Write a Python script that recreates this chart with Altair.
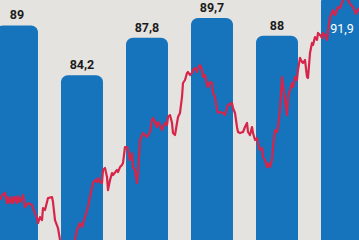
import altair as alt
import pandas as pd

# Bars (index values) and their printed labels
bar_pos = [1, 2, 3, 4, 5, 6]
bar_values = [89.0, 84.2, 87.8, 89.7, 88.0, 91.9]
bar_labels = ["89", "84,2", "87,8", "89,7", "88", "91,9"]

# Red line: daily index series
line_day = [0, 2, 5, 7, 8, 10, 12, 13, 15, 17, 18, 20, 22, 23, 25, 28, 32, 33, 37, 38, 40, 42, 43, 45, 48, 52, 53, 55, 58, 60,
            63, 68, 73, 75, 77, 80, 82, 85, 88, 90, 93, 95, 97, 98, 100, 102, 103, 105, 107, 108, 110, 112, 113, 117, 118, 120,
            122, 123, 125, 127, 128, 130, 132, 133, 135, 137, 138, 140, 143, 147, 150, 152, 153, 155, 157, 158, 160, 162, 163,
            165, 167, 168, 170, 172, 173, 175, 177, 178, 180, 182, 183, 185, 187, 188, 190, 192, 193, 195, 197, 198, 200, 202,
            203, 205, 207, 208, 210, 212, 213, 215, 217, 218, 220, 223, 225, 227, 228, 232, 233, 235, 237, 238, 240, 243, 245,
            247, 248, 250, 252, 253, 255, 257, 258, 260, 262, 263, 265, 267, 268, 270, 272, 273, 275, 277, 278, 280, 282, 285,
            287, 288, 290, 292, 293, 295, 297, 298, 300, 302, 303, 305, 307, 308, 310, 312, 313, 315, 317, 318, 320, 322, 323,
            325, 327, 328, 330, 332, 333, 335, 337, 338, 340, 342, 343, 346, 348, 351, 353, 356, 359]
line_value = [72.21, 72.69, 72.89, 71.92, 72.50, 71.92, 72.50, 71.92, 72.50, 71.92, 72.60, 72.02, 72.40, 72.69, 71.54, 71.92,
              71.73, 71.44, 70.48, 70.00, 70.58, 70.29, 71.44, 71.25, 72.40, 72.50, 72.02, 70.29, 69.52, 68.37,
              67.21, 66.64, 67.60, 68.37, 69.33, 70.00, 69.62, 70.58, 71.54, 72.50, 73.85, 74.13, 73.94, 74.33, 73.94, 73.85,
              75.10, 75.29, 74.42, 73.17, 74.13, 74.81, 74.62, 75.10, 74.90, 75.38,
              75.58, 75.77, 77.31, 77.31, 77.02, 76.06, 76.73, 75.38, 75.10, 73.85, 74.81, 77.98, 78.65, 78.27, 78.75, 79.90,
              80.10, 79.71, 79.23, 79.71, 79.42, 78.94, 79.23,
              79.62, 79.42, 80.19, 80.38, 79.62, 78.65, 78.46, 79.62, 80.19, 80.58, 82.12, 83.46, 83.75, 84.42, 84.52, 84.23,
              84.42, 84.71, 84.90, 84.52, 84.90, 85.19, 84.71,
              84.04, 84.23, 83.27, 83.08, 83.56, 83.46, 82.50, 82.12, 80.87, 80.58, 80.67, 80.58, 80.38, 81.06, 81.35, 81.54,
              81.06, 80.58, 79.23, 78.75, 78.65, 78.75, 79.23,
              79.62, 78.75, 78.46, 79.23, 78.65, 77.98, 78.17, 77.69, 77.02, 77.21, 76.35, 76.06, 75.38, 75.77, 75.38, 76.06,
              77.31, 78.94, 78.75, 79.23, 80.87, 84.04, 81.83,
              80.38, 82.12, 82.79, 83.46, 83.08, 84.04, 83.75, 84.71, 85.87, 85.48, 85.39, 85.67, 84.04, 83.94, 86.35, 87.31,
              87.12, 87.88, 87.60, 88.27, 88.08, 87.79, 88.27,
              88.08, 87.60, 88.37, 89.81, 90.19, 90.48, 90.00, 90.48, 90.77, 90.67, 91.15, 91.44, 91.73, 91.44, 90.96, 90.77,
              90.10, 90.67]

bars = pd.DataFrame({"pos": bar_pos, "value": bar_values, "label": bar_labels})
line = pd.DataFrame({"day": line_day, "value": line_value})

Y_DOMAIN = [68.37, 91.44]
X_BAR_DOMAIN = [0.7385, 6.2615]
HALF = 0.323  # half bar width in bar-index units

y_scale = alt.Scale(domain=Y_DOMAIN, zero=False, nice=False)
x_scale = alt.Scale(domain=X_BAR_DOMAIN, nice=False, zero=False)

base = alt.Chart(bars).transform_calculate(
    left=f"datum.pos - {HALF}", right=f"datum.pos + {HALF}"
)

bar_layer = base.mark_bar(
    color="#1674bd", cornerRadiusTopLeft=7, cornerRadiusTopRight=7, clip=True
).encode(
    x=alt.X("left:Q", scale=x_scale, axis=None),
    x2="right:Q",
    y=alt.Y("value:Q", scale=y_scale, axis=None),
    y2=alt.Y2(datum=60),
)

label_top = alt.Chart(bars).transform_filter(alt.datum.pos < 6).mark_text(
    baseline="bottom", dy=-3, font="Roboto", fontSize=12.5, fontWeight="bold", color="#1b1b1b"
).encode(
    x=alt.X("pos:Q", scale=x_scale, axis=None),
    y=alt.Y("value:Q", scale=y_scale, axis=None),
    text="label:N",
)

label_in = alt.Chart(bars).transform_filter(alt.datum.pos == 6).mark_text(
    baseline="top", dy=28, font="Roboto", fontSize=12.5, fontWeight="normal", color="#ffffff"
).encode(
    x=alt.X("pos:Q", scale=x_scale, axis=None),
    y=alt.Y("value:Q", scale=y_scale, axis=None),
    text="label:N",
)

line_chart = alt.Chart(line).mark_line(
    color="#d6244a", strokeWidth=2.2, clip=True, strokeJoin="round"
).encode(
    x=alt.X("day:Q", scale=alt.Scale(domain=[0, 359], nice=False, zero=False), axis=None),
    y=alt.Y("value:Q", scale=y_scale, axis=None),
)

chart = alt.layer(bar_layer, label_top, label_in, line_chart).resolve_scale(x="independent").properties(
    width=359, height=240, background="#e5e3df", padding=0,
    autosize=alt.AutoSizeParams(type="none")
).configure_view(stroke=None)

chart.save("out.html", embed_options={"renderer": "svg", "actions": False})
